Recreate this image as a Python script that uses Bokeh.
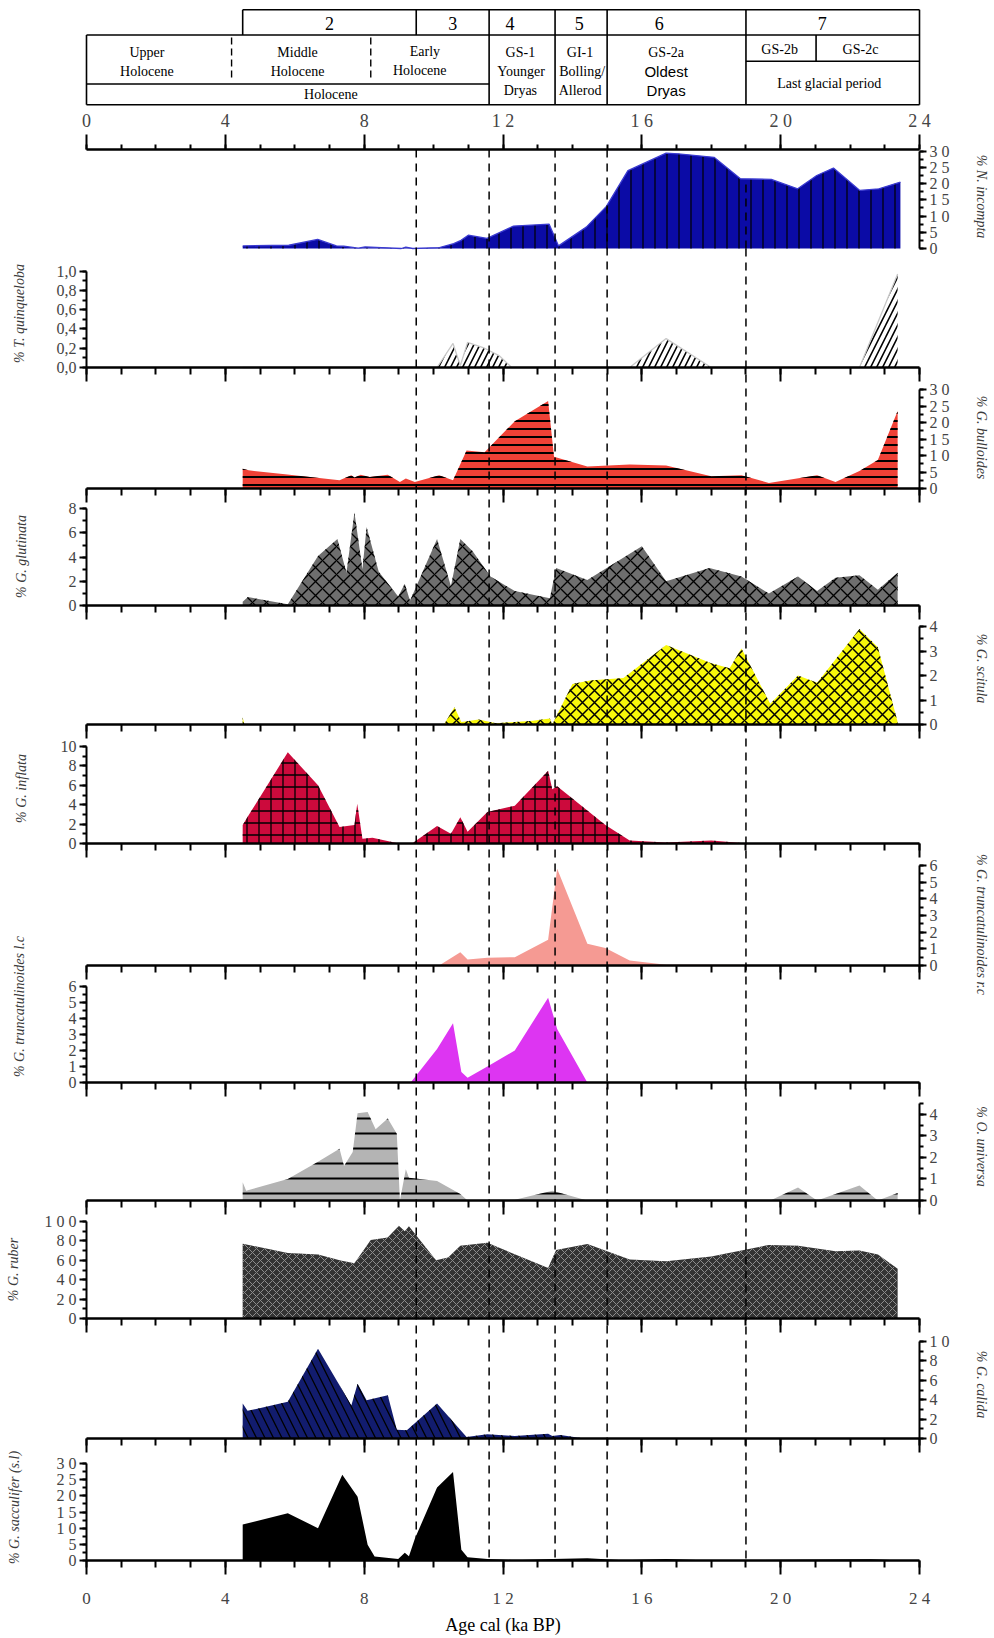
import numpy as np
from bokeh.plotting import figure
from bokeh.models import Range1d, LinearAxis, FixedTicker
from bokeh.embed import file_html
from bokeh.resources import INLINE
from bokeh.core.properties import value

# ---------------- data ----------------
zone_bounds = [9.5, 11.6, 13.5, 15.0, 19.0]

incompta_age = [4.5, 5.83, 6.66, 7.2, 7.41, 7.83, 8.03, 8.5, 9.07, 9.2, 9.4, 10.17, 10.58, 10.79, 11.0, 11.54, 12.3, 13.33, 13.6, 14.4, 14.98, 15.6, 16.7, 17.05, 18.08, 18.84, 19.73, 20.49, 21.04, 21.52, 22.28, 22.83, 23.45]
incompta = [0.8, 1.0, 2.8, 0.8, 0.7, 0.1, 0.5, 0.3, 0.0, 0.4, 0.0, 0.3, 1.5, 2.5, 4.1, 3.1, 6.9, 7.5, 0.8, 6.6, 13.0, 24.0, 29.4, 29.2, 28.1, 21.5, 21.3, 18.4, 22.5, 24.8, 17.9, 18.4, 20.5]

quinq_age = [4.5, 10.1, 10.56, 10.77, 10.98, 11.47, 11.9, 12.25, 15.65, 16.7, 18.0, 22.27, 23.37]
quinq = [0.0, 0.0, 0.25, 0.02, 0.26, 0.2, 0.12, 0.0, 0.0, 0.3, 0.0, 0.0, 0.97]

bull_age = [4.5, 4.67, 5.72, 7.29, 7.63, 7.72, 7.9, 8.16, 8.68, 9.03, 9.2, 9.46, 10.16, 10.56, 10.95, 11.47, 12.34, 13.3, 13.47, 14.43, 15.65, 16.7, 18.0, 18.87, 19.66, 21.05, 21.58, 22.27, 22.8, 23.37]
bull = [6.0, 5.5, 4.3, 2.5, 4.0, 3.3, 4.2, 3.5, 4.2, 2.0, 3.0, 2.0, 4.0, 2.5, 11.5, 11.0, 20.4, 26.5, 9.6, 6.7, 7.3, 7.0, 3.7, 4.0, 1.7, 4.0, 2.0, 5.3, 8.6, 23.5]

glut_age = [4.5, 4.65, 5.8, 6.67, 7.23, 7.49, 7.72, 7.95, 8.07, 8.42, 8.98, 9.17, 9.32, 10.1, 10.5, 10.77, 11.12, 11.64, 12.34, 13.35, 13.53, 14.43, 16.0, 16.7, 17.95, 18.87, 19.66, 20.5, 21.05, 21.58, 22.27, 22.8, 23.37]
glut = [0.3, 0.7, 0.1, 4.1, 5.5, 2.7, 7.7, 3.0, 6.5, 2.8, 0.75, 1.8, 0.4, 5.5, 1.6, 5.5, 4.5, 2.4, 1.2, 0.6, 3.1, 2.1, 4.9, 2.0, 3.1, 2.4, 1.0, 2.4, 1.2, 2.3, 2.5, 1.3, 2.7]

scit_age = [4.5, 4.55, 10.3, 10.6, 10.8, 11.3, 11.8, 12.86, 13.35, 13.42, 14.0, 14.5, 15.47, 16.7, 18.0, 18.53, 18.87, 19.7, 20.5, 21.05, 22.27, 22.8, 23.37]
scit = [0.3, 0.0, 0.0, 0.7, 0.1, 0.2, 0.05, 0.15, 0.25, 0.0, 1.65, 1.8, 1.9, 3.25, 2.5, 2.3, 3.1, 0.85, 2.0, 1.7, 3.9, 3.15, 0.1]

infl_age = [4.5, 4.67, 5.8, 6.67, 7.29, 7.72, 7.8, 7.95, 8.24, 9.0, 9.38, 10.1, 10.5, 10.77, 10.98, 11.55, 12.34, 13.3, 13.42, 13.56, 14.95, 15.65, 16.7, 18.0, 18.87, 23.37]
infl = [1.9, 2.9, 9.4, 6.0, 1.7, 1.9, 4.1, 0.5, 0.6, 0.0, 0.0, 1.8, 1.0, 2.7, 1.2, 3.25, 3.9, 7.5, 5.6, 5.9, 1.9, 0.3, 0.1, 0.3, 0.05, 0.0]

trunc_rc_age = [4.5, 10.16, 10.77, 10.98, 11.55, 12.34, 13.3, 13.56, 14.43, 14.95, 15.65, 16.7, 23.37]
trunc_rc = [0.0, 0.0, 0.8, 0.36, 0.46, 0.5, 1.55, 5.8, 1.3, 1.05, 0.3, 0.05, 0.0]

trunc_lc_age = [4.5, 9.34, 10.1, 10.56, 10.8, 10.98, 11.55, 12.34, 13.3, 13.56, 14.43, 23.37]
trunc_lc = [0.0, 0.0, 2.1, 3.7, 0.65, 0.3, 1.0, 2.0, 5.3, 3.35, 0.0, 0.0]

univ_age = [4.5, 4.6, 5.8, 6.67, 7.29, 7.42, 7.67, 7.81, 8.1, 8.33, 8.68, 8.94, 9.03, 9.2, 9.29, 10.1, 10.77, 10.98, 12.34, 13.42, 14.43, 19.7, 20.5, 21.05, 22.27, 22.8, 23.37]
univ = [0.85, 0.45, 1.0, 1.8, 2.4, 1.6, 2.25, 4.05, 4.1, 3.3, 3.8, 3.1, 0.0, 1.45, 1.05, 0.9, 0.3, 0.0, 0.03, 0.45, 0.0, 0.0, 0.6, 0.0, 0.7, 0.0, 0.35]

ruber_age = [4.5, 5.8, 6.67, 7.32, 7.72, 8.19, 8.68, 9.0, 9.17, 9.29, 10.07, 10.42, 10.77, 11.55, 13.3, 13.53, 14.43, 15.65, 16.7, 18.0, 19.66, 20.5, 21.58, 22.27, 22.8, 23.37]
ruber = [77, 67.6, 66, 59.7, 57, 80.9, 83.6, 95.6, 90, 95, 60, 63, 75, 78, 52, 70.6, 76.8, 60.8, 59, 63.8, 75.8, 75, 69.3, 70, 65.9, 51.2]

calida_age = [4.5, 4.64, 5.8, 6.67, 7.37, 7.63, 7.81, 8.07, 8.68, 8.94, 9.23, 10.1, 10.95, 11.55, 12.34, 13.3, 13.42, 13.65, 14.34, 23.37]
calida = [3.6, 2.85, 3.8, 9.25, 5.0, 3.4, 5.65, 3.95, 4.45, 0.9, 0.85, 3.6, 0.15, 0.45, 0.25, 0.5, 0.25, 0.35, 0.0, 0.0]

sacc_age = [4.5, 5.8, 6.67, 7.37, 7.81, 8.1, 8.3, 8.98, 9.17, 9.29, 9.46, 10.1, 10.56, 10.8, 10.98, 11.55, 12.34, 13.42, 14.43, 15.47, 16.7, 18.0, 22.6, 23.37]
sacc = [11.1, 14.6, 10.0, 26.5, 19.7, 4.9, 1.2, 0.5, 2.4, 1.3, 6.7, 22.6, 27.4, 3.3, 1.0, 0.5, 0.1, 0.5, 0.7, 0.1, 0.5, 0.0, 0.4, 0.1]

x_major = [0, 4, 8, 12, 16, 20, 24]
x_labels = ["0", "4", "8", "1 2", "1 6", "2 0", "2 4"]

# chronozone table
zone_nums = ["2", "3", "4", "5", "6", "7"]
zone_num_x = [7.0, 10.55, 12.2, 14.2, 16.5, 21.2]
row1_start = 4.5
holo_dash = [4.18, 8.19]
gs2_split = 21.02
table_texts = [("Upper", 1.74, 51.5), ("Holocene", 1.74, 70.5), ("Middle", 6.08, 51.5), ("Holocene", 6.08, 70.5),
               ("Early", 9.75, 50.5), ("Holocene", 9.6, 69.5), ("GS-1", 12.5, 51.5), ("Younger", 12.52, 70.5),
               ("Dryas", 12.5, 89.5), ("GI-1", 14.22, 51.5), ("Bolling/", 14.28, 70.5), ("Allerod", 14.22, 89.5),
               ("GS-2a", 16.7, 51.5), ("GS-2b", 19.97, 49.0), ("GS-2c", 22.3, 49.0),
               ("Last glacial period", 21.4, 82.5), ("Holocene", 7.04, 93.5)]
sans_texts = [("Oldest", 16.7, 70.5), ("Dryas", 16.7, 89.5)]

# ---------------- layout (page pixels) ----------------
SERIF = "Liberation Serif"
W, H = 990, 1636
X0, X1 = 86, 919            # page x of 0 ka and 24 ka
KA_PER_PX = 24.0 / (X1 - X0)
TOP_AXIS, BOT_AXIS = 149, 1560


def ka(px):
    return (px - X0) * KA_PER_PX


def yrange(vhi, phi, vlo, plo):
    k = (vhi - vlo) / (plo - phi)
    return Range1d(vlo - (H - plo) * k, vhi + phi * k)


p = figure(width=W, height=H, x_range=Range1d(ka(0), ka(W)), y_range=Range1d(H, 0),
           output_backend="svg", toolbar_location=None, x_axis_location=None, y_axis_location=None,
           min_border_left=0, min_border_right=0, min_border_top=0, min_border_bottom=0)
for g in p.grid:
    g.visible = False
p.outline_line_color = None
p.background_fill_color = "white"
p.border_fill_color = "white"

# ---- chronozone table ----
seg_x0 = [row1_start, 0, 0, 0, 24, row1_start, 9.5] + zone_bounds[1:] + [0, 19, gs2_split]
seg_x1 = [24, 24, 24, 0, 24, row1_start, 9.5] + zone_bounds[1:] + [zone_bounds[1], 24, gs2_split]
seg_y0 = [9.2, 34.5, 104.2, 34.5, 9.2, 9.2, 9.2] + [9.2] * 4 + [83.5, 60.7, 34.5]
seg_y1 = [9.2, 34.5, 104.2, 104.2, 104.2, 34.5, 34.5] + [104.2] * 4 + [83.5, 60.7, 60.7]
p.segment(x0=seg_x0, y0=seg_y0, x1=seg_x1, y1=seg_y1, line_color="black", line_width=1.6)
p.segment(x0=holo_dash, y0=[37, 37], x1=holo_dash, y1=[81, 81], line_color="black", line_width=1.4,
          line_dash="7 4")
p.text(x=zone_num_x, y=[23] * len(zone_nums), text=zone_nums, text_font=value(SERIF), text_font_size="18px",
       text_align="center", text_baseline="middle", text_color="black")
p.text(x=[a[1] for a in table_texts], y=[a[2] for a in table_texts], text=[a[0] for a in table_texts],
       text_font=value(SERIF), text_font_size="14px", text_align="center", text_baseline="middle",
       text_color="black")
p.text(x=[a[1] for a in sans_texts], y=[a[2] for a in sans_texts], text=[a[0] for a in sans_texts],
       text_font=value("Liberation Sans"), text_font_size="15px", text_align="center", text_baseline="middle",
       text_color="black")


def lab(vals, spaced=True, comma=False):
    d = {}
    for v in vals:
        if comma:
            d[float(v)] = ("%.1f" % v).replace(".", ",")
        else:
            s = str(int(round(v)))
            d[float(v)] = " ".join(s) if spaced else s
    return d


panels = [
    dict(name="inc", age=incompta_age, val=incompta, side="right", top=30, step=5, minor=2.5,
         labels=lab(range(0, 31, 5)), phi=150.7, plo=248, fill="#0b0ba6", hatch="vertical_line",
         hscale=12, hweight=1.2, edge="#3a3ad0", text="% N. incompta", lx=981, ly=196),
    dict(name="qui", age=quinq_age, val=quinq, side="left", top=1.0, step=0.2, minor=0.1,
         labels=lab([0, 0.2, 0.4, 0.6, 0.8, 1.0], comma=True), phi=270.7, plo=367, fill="white",
         hatch="right_diagonal_line", hscale=12, hweight=1.6, edge="#c8c8c8", text="% T. quinqueloba",
         lx=19, ly=313),
    dict(name="bul", age=bull_age, val=bull, side="right", top=30, step=5, minor=2.5,
         labels=lab(range(0, 31, 5)), phi=389, plo=488, fill="#ef4136", hatch="horizontal_line",
         hscale=8, hweight=2, edge=None, text="% G. bulloides", lx=981, ly=437),
    dict(name="glu", age=glut_age, val=glut, side="left", top=8, step=2, minor=1,
         labels=None, phi=508.3, plo=605, fill="#6e6e6e", hatch="diagonal_cross",
         hscale=14, hweight=1.3, edge=None, text="% G. glutinata", lx=21, ly=556),
    dict(name="sci", age=scit_age, val=scit, side="right", top=4, step=1, minor=0.5,
         labels=None, phi=626, plo=724, fill="#f7f70a", hatch="diagonal_cross",
         hscale=12, hweight=1.5, edge=None, text="% G. scitula", lx=981, ly=668),
    dict(name="inf", age=infl_age, val=infl, side="left", top=10, step=2, minor=1,
         labels=None, phi=746, plo=843, fill="#cc0a3c", hatch="cross",
         hscale=12, hweight=1.3, edge=None, text="% G. inflata", lx=21, ly=788),
    dict(name="trc", age=trunc_rc_age, val=trunc_rc, side="right", top=6, step=1, minor=0.5,
         labels=None, phi=865, plo=965, fill="#f59a93", hatch=None,
         hscale=10, hweight=1, edge=None, text="% G. truncatulinoides r.c", lx=981, ly=924),
    dict(name="tlc", age=trunc_lc_age, val=trunc_lc, side="left", top=6, step=1, minor=0.5,
         labels=None, phi=986, plo=1082, fill="#dd35f2", hatch=None,
         hscale=10, hweight=1, edge=None, text="% G. truncatulinoides l.c", lx=19, ly=1006),
    dict(name="uni", age=univ_age, val=univ, side="right", top=4.5, step=1, minor=0.5,
         labels={float(v): str(v) for v in [0, 1, 2, 3, 4]}, phi=1103, plo=1200, fill="#b4b4b4",
         hatch="horizontal_line", hscale=15, hweight=2, edge=None, text="% O. universa", lx=981, ly=1146),
    dict(name="rub", age=ruber_age, val=ruber, side="left", top=100, step=20, minor=10,
         labels=lab(range(0, 101, 20)), phi=1221, plo=1318, fill="#333333", hatch="diagonal_cross",
         hscale=8, hweight=1.0, hcolor="#8c8c8c", edge=None, text="% G. ruber", lx=13, ly=1269),
    dict(name="cal", age=calida_age, val=calida, side="right", top=10, step=2, minor=1,
         labels=lab(range(0, 11, 2)), phi=1341, plo=1438, fill="#121c6e", hatch="left_diagonal_line",
         hscale=17, hweight=1.3, edge=None, text="% G. calida", lx=981, ly=1384),
    dict(name="sac", age=sacc_age, val=sacc, side="left", top=30, step=5, minor=2.5,
         labels=lab(range(0, 31, 5)), phi=1463, plo=1560, fill="black", hatch=None,
         hscale=10, hweight=1, edge=None, text="% G. sacculifer (s.l)", lx=14, ly=1507),
]


def xticker():
    return FixedTicker(ticks=x_major, minor_ticks=list(range(25)))


AX = dict(axis_line_width=2.5, major_tick_line_width=2, minor_tick_line_width=2)

# data areas + y axes + species labels
for sp in panels:
    p.extra_y_ranges[sp["name"]] = yrange(sp["top"], sp["phi"], 0, sp["plo"])
    kw = {}
    if sp["hatch"]:
        kw = dict(hatch_pattern=sp["hatch"], hatch_color=sp.get("hcolor", "black"),
                  hatch_scale=sp["hscale"], hatch_weight=sp["hweight"])
    p.varea(x=sp["age"], y1=0, y2=sp["val"], fill_color=sp["fill"], y_range_name=sp["name"], **kw)
    if sp["edge"]:
        p.line(sp["age"], sp["val"], line_color=sp["edge"], line_width=1.3, y_range_name=sp["name"])
    ticks = [float(v) for v in np.round(np.arange(0, sp["top"] + 1e-9, sp["step"]), 4)]
    minors = [float(v) for v in np.round(np.arange(0, sp["top"] + 1e-9, sp["minor"]), 4)]
    ay = LinearAxis(y_range_name=sp["name"], fixed_location=(0 if sp["side"] == "left" else 24),
                    ticker=FixedTicker(ticks=ticks, minor_ticks=minors), bounds=(0, sp["top"]),
                    major_label_text_font=SERIF, major_label_text_font_size="16px",
                    major_label_standoff=3,
                    major_tick_out=7, major_tick_in=0, minor_tick_out=4, minor_tick_in=0,
                    axis_line_width=2, major_tick_line_width=2, minor_tick_line_width=2)
    if sp["labels"]:
        ay.major_label_overrides = sp["labels"]
    p.add_layout(ay, sp["side"])
    p.text(x=[ka(sp["lx"])], y=[sp["ly"]], text=[sp["text"]],
           angle=(np.pi / 2 if sp["side"] == "left" else -np.pi / 2),
           text_font=value(SERIF), text_font_style="italic", text_font_size="14px",
           text_color="#3a3a3a", text_align="center", text_baseline="middle")

# inner x axes (ticks pointing down, no labels)
for sp in panels[1:-1]:
    ax = LinearAxis(fixed_location=sp["plo"], bounds=(0, 24), ticker=xticker(),
                    major_label_text_font_size="0px", major_label_text_color=None, major_label_standoff=0,
                    major_tick_out=14, major_tick_in=0, minor_tick_out=7, minor_tick_in=0, **AX)
    p.add_layout(ax, "below")

# top axis
top_ax = LinearAxis(fixed_location=TOP_AXIS, bounds=(0, 24), ticker=xticker(),
                    major_label_overrides=dict(zip([float(v) for v in x_major], x_labels)),
                    major_label_text_font=SERIF, major_label_text_font_size="18px", major_label_standoff=4,
                    major_tick_out=15, major_tick_in=0, minor_tick_out=5, minor_tick_in=0, **AX)
p.add_layout(top_ax, "above")

# bottom axis
bx = LinearAxis(fixed_location=BOT_AXIS, bounds=(0, 24), ticker=xticker(),
                major_label_overrides=dict(zip([float(v) for v in x_major], x_labels)),
                major_label_text_font=SERIF, major_label_text_font_size="17px", major_label_standoff=14,
                major_tick_out=14, major_tick_in=0, minor_tick_out=7, minor_tick_in=0, **AX)
p.add_layout(bx, "below")
p.text(x=[12], y=[1624], text=["Age cal (ka BP)"], text_font=value(SERIF), text_font_size="18px",
       text_align="center", text_baseline="middle", text_color="black")

# dashed chronozone boundaries
inner = zone_bounds[:-1]
p.segment(x0=inner, y0=[TOP_AXIS] * len(inner), x1=inner, y1=[BOT_AXIS] * len(inner),
          line_dash="8 6", line_width=1.5, line_color="black")
last = zone_bounds[-1]
p.segment(x0=[last], y0=[0], x1=[last], y1=[float(np.interp(last, incompta_age, incompta))],
          line_dash="8 6", line_width=1.5, line_color="black", y_range_name="inc")
p.segment(x0=[last], y0=[panels[0]["plo"]], x1=[last], y1=[BOT_AXIS],
          line_dash="8 6", line_width=1.5, line_color="black")

open("out.html", "w").write(file_html(p, INLINE))
